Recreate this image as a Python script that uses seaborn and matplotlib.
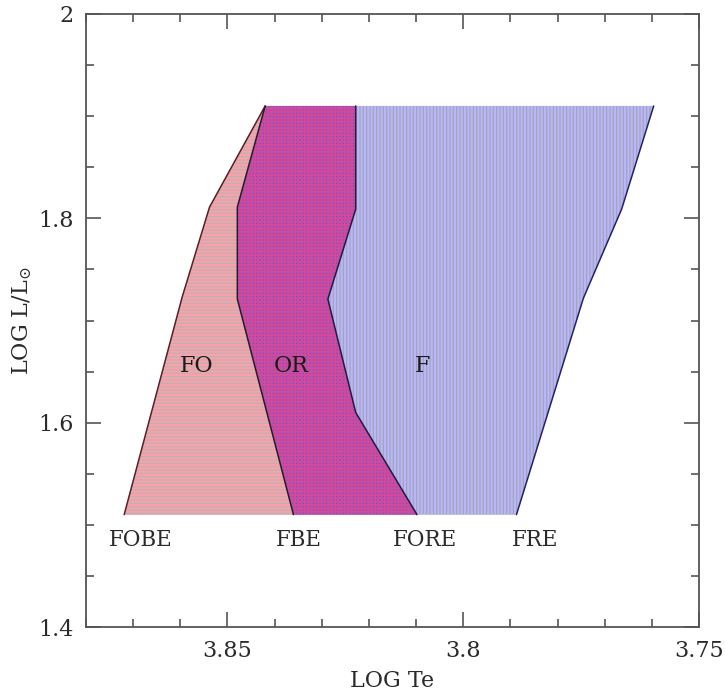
import matplotlib
matplotlib.use("Agg")
import matplotlib.pyplot as plt
from matplotlib.ticker import MultipleLocator
import seaborn as sns

# Instability-strip edges (log Te, log L/Lsun), bottom to top
fobe_te = [3.8719, 3.8596, 3.8538, 3.8420]
fobe_l = [1.51, 1.723, 1.811, 1.91]
fbe_te = [3.8360, 3.8479, 3.8479, 3.8420]
fbe_l = [1.51, 1.721, 1.811, 1.91]
fore_te = [3.8098, 3.8228, 3.8287, 3.8228, 3.8228]
fore_l = [1.51, 1.61, 1.721, 1.809, 1.91]
fre_te = [3.7887, 3.7745, 3.7664, 3.7596]
fre_l = [1.51, 1.722, 1.809, 1.91]

# Region names and their label positions
region_names = ["FO", "OR", "F"]
region_te = [3.8566, 3.8364, 3.8087]
region_l = [1.655, 1.655, 1.655]

# Edge names written below the strip
edge_names = ["FOBE", "FBE", "FORE", "FRE"]
edge_te = [3.8683, 3.8349, 3.8081, 3.7847]
edge_l = [1.485, 1.485, 1.485, 1.485]

sns.set_style("ticks")
plt.rcParams["font.family"] = ["DejaVu Serif", "DejaVu Sans"]
plt.rcParams["mathtext.fontset"] = "dejavuserif"
plt.rcParams["hatch.linewidth"] = 1.5

fig = plt.figure(figsize=(7.25, 6.93), dpi=100)
ax = fig.add_axes([0.1186, 0.0952, 0.8455, 0.8846])

text_color = "#2a2a2a"
spine_color = "#555555"


def region(left_te, left_l, right_te, right_l, face, hatch, hatch_color):
    xs = list(left_te) + list(right_te)[::-1]
    ys = list(left_l) + list(right_l)[::-1]
    ax.fill(xs, ys, facecolor=face, edgecolor=hatch_color, hatch=hatch,
            linewidth=0, zorder=1)


region(fore_te, fore_l, fre_te, fre_l, "#a4a4c0", "|||||", "#b8b8f8")
region(fbe_te, fbe_l, fore_te, fore_l, "#6656d8", "+++++", "#d04a9c")
region(fobe_te, fobe_l, fbe_te, fbe_l, "#c4aeb2", "-----", "#f8a2aa")

edge_colors = ["#5a1f24", "#251a30", "#1c1c44", "#22226a"]
for te, l, c in zip([fobe_te, fbe_te, fore_te, fre_te],
                    [fobe_l, fbe_l, fore_l, fre_l], edge_colors):
    sns.lineplot(x=te, y=l, sort=False, estimator=None, color=c,
                 linewidth=1.1, ax=ax, zorder=3)

for name, x, y in zip(region_names, region_te, region_l):
    ax.text(x, y, name, ha="center", va="center", fontsize=16,
            color="#1a1a1a", zorder=4)
for name, x, y in zip(edge_names, edge_te, edge_l):
    ax.text(x, y, name, ha="center", va="center", fontsize=15.5,
            color="#2a2a2a", zorder=4)

ax.set_xlim(3.88, 3.75)
ax.set_ylim(1.4, 2.0)
ax.xaxis.set_minor_locator(MultipleLocator(0.01))
ax.yaxis.set_minor_locator(MultipleLocator(0.05))
ax.set_xticks([3.85, 3.8, 3.75])
ax.set_xticklabels(["3.85", "3.8", "3.75"])
ax.set_yticks([1.4, 1.6, 1.8, 2.0])
ax.set_yticklabels(["1.4", "1.6", "1.8", "2"])

ax.tick_params(which="both", direction="in", top=True, right=True,
               color=spine_color, width=1.2, labelsize=16,
               labelcolor=text_color)
ax.tick_params(which="major", length=11, pad=9)
ax.tick_params(which="minor", length=5.5)
for s in ax.spines.values():
    s.set_color(spine_color)
    s.set_linewidth(1.3)

ax.set_xlabel("LOG Te", fontsize=16, color=text_color, labelpad=6)
ax.set_ylabel(r"LOG L/L$_{\odot}$", fontsize=16, color=text_color, labelpad=3)

fig.savefig("out.png", dpi=100)
